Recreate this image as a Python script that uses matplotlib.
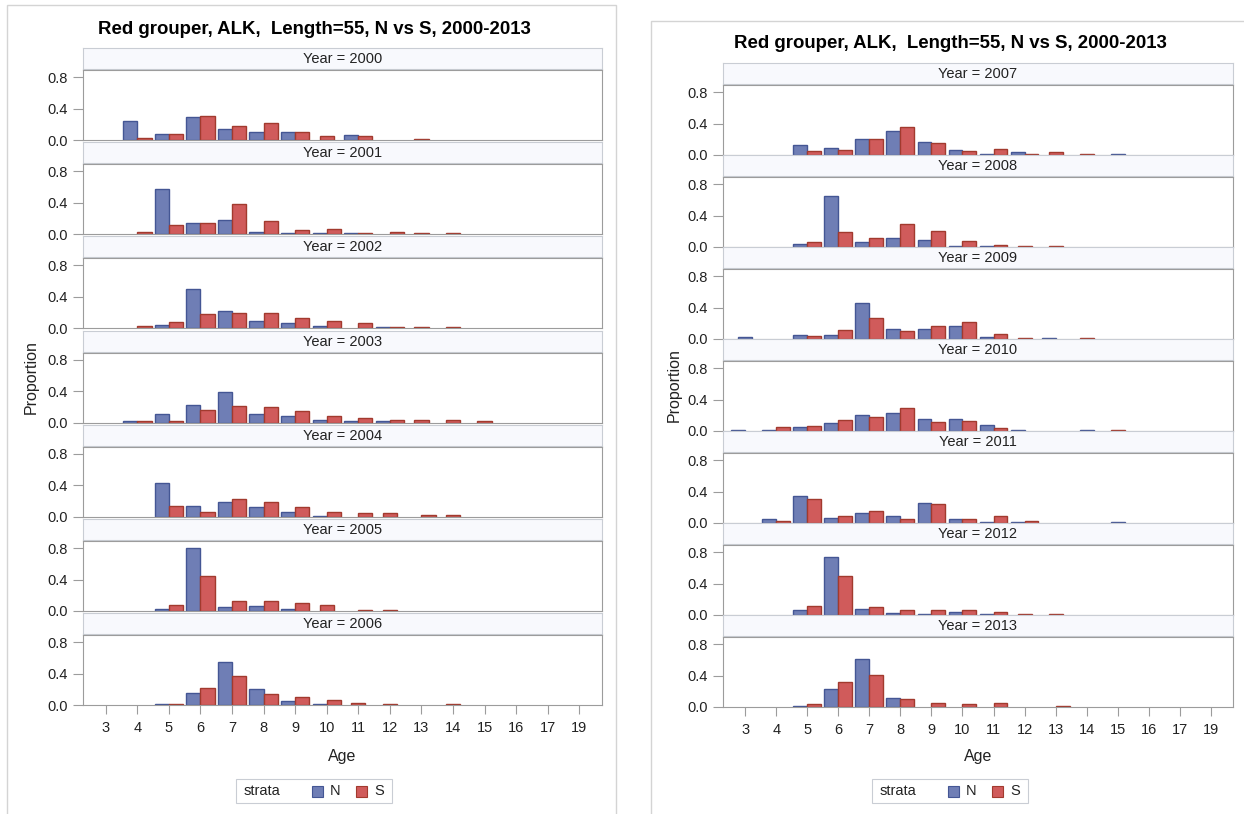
import numpy as np
import matplotlib.pyplot as plt
from matplotlib.patches import Rectangle

plt.rcParams['font.family'] = ['Liberation Sans', 'DejaVu Sans']

n = np.nan
ages = [3, 4, 5, 6, 7, 8, 9, 10, 11, 12, 13, 14, 15, 16, 17, 19]

# proportion at age, N and S strata (nan = no fish of that age in the stratum)
n2000 = [n, .24, .08, .29, .144, .097, .097, n, .068, n, n, n, n, n, n, n]
s2000 = [n, .03, .08, .305, .178, .21, .097, .047, .05, n, .017, n, n, n, n, n]
n2001 = [n, 0, .578, .143, .18, .034, .02, .017, .017, 0, n, n, n, n, n, n]
s2001 = [n, .034, .114, .143, .384, .165, .05, .068, .017, .034, .017, .017, n, n, n, n]
n2002 = [n, 0, .047, .50, .225, .098, .064, .03, 0, .017, n, n, n, n, n, n]
s2002 = [n, .03, .08, .18, .196, .196, .128, .098, .064, .017, .017, .017, n, n, n, n]
n2003 = [n, .017, .115, .225, .387, .115, .08, .03, .017, .017, n, n, n, n, n, n]
s2003 = [n, .017, .017, .16, .21, .196, .145, .08, .064, .03, .03, .03, .017, n, n, n]
n2004 = [n, n, .435, .143, .194, .127, .063, .013, 0, n, 0, n, n, n, n, n]
s2004 = [n, n, .143, .063, .224, .194, .127, .063, .046, .046, .017, .017, n, n, n, n]
n2005 = [n, n, .03, .80, .046, .063, .03, n, 0, n, n, n, n, n, n, n]
s2005 = [n, n, .08, .45, .126, .126, .097, .08, .013, .013, n, n, n, n, n, n]
n2006 = [n, n, .017, .16, .55, .207, .05, .017, n, n, n, n, n, n, n, n]
s2006 = [n, n, .017, .224, .367, .143, .11, .063, .034, .013, n, .013, n, n, n, n]
n2007 = [n, n, .13, .095, .207, .306, .164, .065, .017, .034, n, n, .017, n, n, n]
s2007 = [n, n, .052, .065, .207, .353, .147, .052, .082, .017, .034, .017, n, n, n, n]
n2008 = [n, n, .043, .643, .06, .109, .091, .013, .013, n, n, n, n, n, n, n]
s2008 = [n, n, .06, .187, .109, .287, .204, .074, .026, .013, .013, n, n, n, n, n]
n2009 = [.021, n, .05, .05, .464, .132, .132, .162, .021, n, .017, n, n, n, n, n]
s2009 = [n, n, .034, .115, .272, .098, .162, .213, .068, .017, 0, .017, n, n, n, n]
n2010 = [.017, .017, .052, .10, .20, .228, .147, .147, .082, .017, n, .017, n, n, n, n]
s2010 = [0, .052, .069, .134, .18, .293, .116, .13, .034, 0, n, n, .017, n, n, n]
n2011 = [n, .048, .34, .065, .13, .083, .26, .048, .017, .017, n, n, .017, n, n, n]
s2011 = [n, .03, .31, .083, .148, .048, .243, .048, .083, .03, n, n, n, n, n, n]
n2012 = [n, n, .061, .743, .078, .03, .017, .043, .017, n, n, n, n, n, n, n]
s2012 = [n, n, .113, .50, .096, .061, .061, .061, .043, .013, .013, n, n, n, n, n]
n2013 = [n, n, .017, .233, .616, .116, 0, 0, 0, n, 0, n, n, n, n, n]
s2013 = [n, n, .034, .323, .405, .10, .052, .034, .052, n, .013, n, n, n, n, n]

data = {
    2000: (n2000, s2000), 2001: (n2001, s2001), 2002: (n2002, s2002),
    2003: (n2003, s2003), 2004: (n2004, s2004), 2005: (n2005, s2005),
    2006: (n2006, s2006), 2007: (n2007, s2007), 2008: (n2008, s2008),
    2009: (n2009, s2009), 2010: (n2010, s2010), 2011: (n2011, s2011),
    2012: (n2012, s2012), 2013: (n2013, s2013),
}

TITLE = "Red grouper, ALK,  Length=55, N vs S, 2000-2013"
N_FILL, N_EDGE = '#6F7EB5', '#445694'
S_FILL, S_EDGE = '#D05B5B', '#A23A2E'
TXT = '#222222'
W, H = 1244, 814


def box(x, y, w, h):
    # pixel box (top-left origin) -> figure fraction
    return [x / W, 1 - (y + h) / H, w / W, h / H]


def draw_bars(ax, vn, vs):
    vn = np.array(vn, dtype=float)
    vs = np.array(vs, dtype=float)
    pos = np.arange(len(ages))
    both = ~np.isnan(vn) & ~np.isnan(vs)
    bw = 0.45
    xn = np.where(both, pos - bw / 2, pos)
    xs = np.where(both, pos + bw / 2, pos)
    mn = np.nan_to_num(vn) > 0
    ms = np.nan_to_num(vs) > 0
    ax.bar(xn[mn], vn[mn], width=bw, color=N_FILL, edgecolor=N_EDGE, linewidth=1.0)
    ax.bar(xs[ms], vs[ms], width=bw, color=S_FILL, edgecolor=S_EDGE, linewidth=1.0)


def draw_panel(fig, years, ax_x, ax_w, top0, pitch, cx, title_y, ylab_x):
    for i, yr in enumerate(years):
        ht = top0 + i * pitch
        hax = fig.add_axes(box(ax_x, ht, ax_w, 21))
        hax.set_facecolor('#F8F9FD')
        hax.set_xticks([])
        hax.set_yticks([])
        for sp in hax.spines.values():
            sp.set_color('#C9CDD4')
        hax.text(0.5, 0.48, f"Year = {yr}", ha='center', va='center',
                 fontsize=10.5, color=TXT, transform=hax.transAxes)

        ax = fig.add_axes(box(ax_x, ht + 22, ax_w, 70))
        vn, vs = data[yr]
        draw_bars(ax, vn, vs)
        ax.set_xlim(-0.72, len(ages) - 1 + 0.72)
        ax.set_ylim(0, 0.89)
        ax.set_yticks([0, 0.4, 0.8])
        ax.set_yticklabels(['0.0', '0.4', '0.8'])
        ax.set_xticks(np.arange(len(ages)))
        for sp in ax.spines.values():
            sp.set_color('#9C9C9C')
        ax.tick_params(axis='y', direction='out', length=7, width=0.8,
                       color='#9C9C9C', labelsize=10.5, labelcolor=TXT, pad=4)
        if i == len(years) - 1:
            ax.set_xticklabels([str(a) for a in ages])
            ax.tick_params(axis='x', direction='out', length=6.5, width=0.8,
                           color='#9C9C9C', labelsize=10.5, labelcolor=TXT, pad=5)
        else:
            ax.tick_params(axis='x', length=0, labelbottom=False)

    first_top = top0
    last_bot = top0 + (len(years) - 1) * pitch + 92
    fig.text(cx / W, 1 - title_y / H, TITLE, ha='center', va='center',
             fontsize=13.4, fontweight='bold', color='black')
    fig.text(ylab_x / W, 1 - (first_top + last_bot) / 2 / H, 'Proportion',
             rotation=90, ha='center', va='center', fontsize=11.5, color=TXT)
    fig.text((ax_x + ax_w / 2) / W, 1 - 757 / H, 'Age', ha='center',
             va='center', fontsize=11.5, color=TXT)

    # legend
    ly = 791
    lx0 = cx - 78
    fig.patches.append(Rectangle((lx0 / W, 1 - (ly + 12) / H), 156 / W, 24 / H,
                                 transform=fig.transFigure, facecolor='white',
                                 edgecolor='#C9CDD4', linewidth=0.8))
    fig.text((lx0 + 8) / W, 1 - ly / H, 'strata', ha='left', va='center',
             fontsize=10.5, color=TXT)
    for j, (lab, fc, ec) in enumerate([('N', N_FILL, N_EDGE), ('S', S_FILL, S_EDGE)]):
        sx = lx0 + 76 + j * 44
        fig.patches.append(Rectangle((sx / W, 1 - (ly + 5.5) / H), 11 / W, 11 / H,
                                     transform=fig.transFigure, facecolor=fc,
                                     edgecolor=ec, linewidth=0.8))
        fig.text((sx + 18) / W, 1 - ly / H, lab, ha='left', va='center',
                 fontsize=10.5, color=TXT)


fig = plt.figure(figsize=(W / 100, H / 100), dpi=100)

# outer frames of the two graph images
fig.patches.append(Rectangle((7 / W, -0.05), (616 - 7) / W, 1.05 - 5 / H,
                             transform=fig.transFigure, facecolor='none',
                             edgecolor='#D4D4D4', linewidth=1.0))
fig.patches.append(Rectangle((651 / W, -0.05), 0.5, 1.05 - 21 / H,
                             transform=fig.transFigure, facecolor='none',
                             edgecolor='#D4D4D4', linewidth=1.0))

draw_panel(fig, [2000, 2001, 2002, 2003, 2004, 2005, 2006],
           ax_x=83, ax_w=519, top0=48, pitch=94.2, cx=314, title_y=30, ylab_x=31)
draw_panel(fig, [2007, 2008, 2009, 2010, 2011, 2012, 2013],
           ax_x=723, ax_w=510, top0=63, pitch=92, cx=950, title_y=44, ylab_x=674)

fig.savefig('out.png', dpi=100)
